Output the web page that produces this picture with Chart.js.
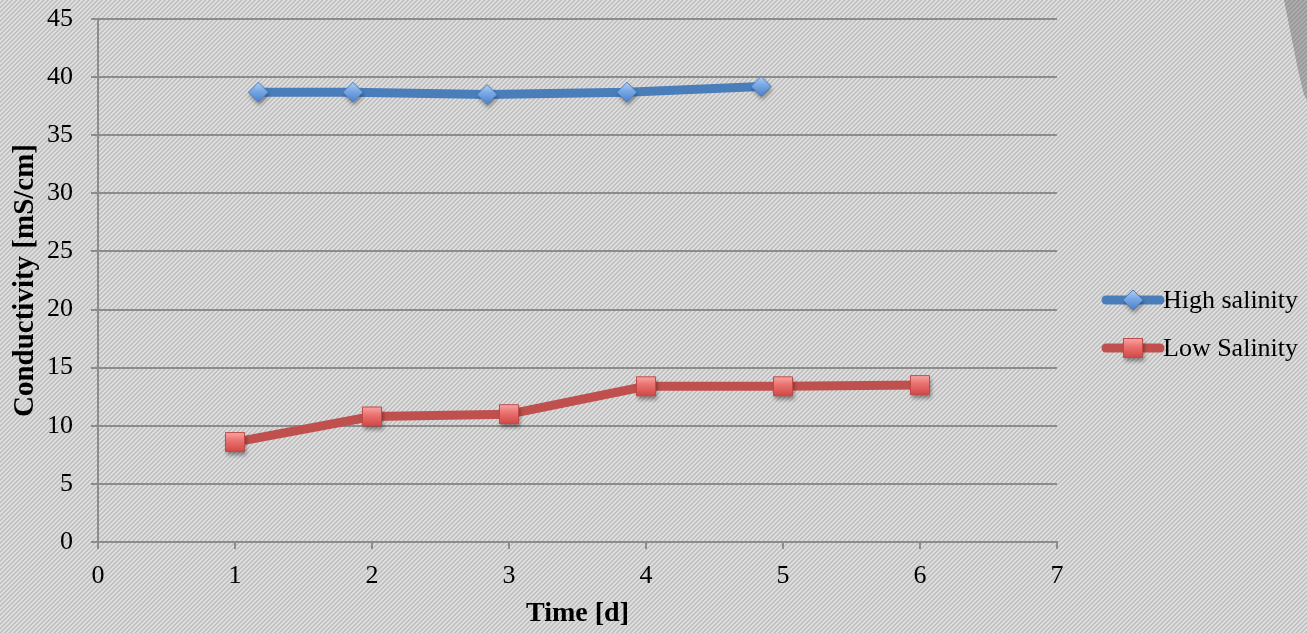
<!DOCTYPE html>
<html>
<head>
<meta charset="utf-8">
<script src="https://cdn.jsdelivr.net/npm/chart.js@4.4.1/dist/chart.umd.min.js"></script>
<style>
  html, body { margin: 0; padding: 0; background: #d0d0d0; overflow: hidden; }
  #wrap { width: 1307px; height: 633px; }
</style>
</head>
<body>
<div id="wrap"><canvas id="chart" width="1307" height="633"></canvas></div>
<script>
// Measured conductivity over time
const seriesNames = ['High salinity', 'Low Salinity'];
const highDays = [1.17, 1.86, 2.84, 3.86, 4.84];
const highConductivity = [38.7, 38.7, 38.5, 38.7, 39.2];
const lowDays = [1, 2, 3, 4, 5, 6];
const lowConductivity = [8.6, 10.8, 11.0, 13.4, 13.4, 13.5];
const xTickValues = [0, 1, 2, 3, 4, 5, 6, 7];
const yTickValues = [0, 5, 10, 15, 20, 25, 30, 35, 40, 45];
const xTitle = 'Time [d]';
const yTitle = 'Conductivity [mS/cm]';

const FONT = "'Liberation Serif', 'Times New Roman', serif";
const GRID = '#8c8c8c';

// Diagonal hatch used as the page background
function makeHatch(light, dark) {
  const n = 9, c = document.createElement('canvas');
  c.width = n; c.height = n;
  const g = c.getContext('2d');
  const img = g.createImageData(n, n);
  for (let y = 0; y < n; y++) {
    for (let x = 0; x < n; x++) {
      const t = 0.5 + 0.5 * Math.cos(2 * Math.PI * (x + y) / 4.5);
      const v = Math.round(dark + (light - dark) * t);
      const i = (y * n + x) * 4;
      img.data[i] = img.data[i + 1] = img.data[i + 2] = v; img.data[i + 3] = 255;
    }
  }
  g.putImageData(img, 0, 0);
  return c;
}

// Shaded marker images
function makeMarker(kind) {
  const s = 34, c = document.createElement('canvas');
  c.width = s; c.height = s;
  const g = c.getContext('2d');
  const m = s / 2;
  const path = () => {
    g.beginPath();
    if (kind === 'diamond') {
      const r = 10;
      g.moveTo(m, m - r); g.lineTo(m + r, m); g.lineTo(m, m + r); g.lineTo(m - r, m); g.closePath();
    } else {
      const h = 9.5;
      g.rect(m - h, m - h, 2 * h, 2 * h);
    }
  };
  const grad = g.createLinearGradient(0, m - 10, 0, m + 10);
  if (kind === 'diamond') {
    grad.addColorStop(0, '#b3d0f5'); grad.addColorStop(0.45, '#78a7e4'); grad.addColorStop(1, '#4b80cc');
  } else {
    grad.addColorStop(0, '#f8aaa8'); grad.addColorStop(0.4, '#ec7472'); grad.addColorStop(1, '#d04644');
  }
  g.save();
  g.shadowColor = 'rgba(0,0,0,0.4)'; g.shadowBlur = 4; g.shadowOffsetX = 1; g.shadowOffsetY = 3;
  path(); g.fillStyle = grad; g.fill();
  g.restore();
  path(); g.lineWidth = 1; g.strokeStyle = kind === 'diamond' ? '#4a7ebb' : '#be4b48'; g.stroke();
  return c;
}

const hatch = makeHatch(228, 188);
const markers = [makeMarker('diamond'), makeMarker('square')];
const lineColors = ['#4a7ebb', '#c0504d'];

const backgroundPlugin = {
  id: 'hatchBackground',
  beforeDraw(chart) {
    const ctx = chart.ctx;
    ctx.save();
    ctx.fillStyle = ctx.createPattern(hatch, 'repeat');
    ctx.fillRect(0, 0, chart.width, chart.height);
    // folded corner at top right
    ctx.beginPath();
    ctx.moveTo(1284, 0);
    ctx.lineTo(1298, 70);
    ctx.lineTo(1304, 95);
    ctx.lineTo(1307, 100);
    ctx.lineTo(1307, 0);
    ctx.closePath();
    ctx.fillStyle = 'rgba(60,60,60,0.3)';
    ctx.fill();
    ctx.restore();
  }
};

const legendPlugin = {
  id: 'lineLegend',
  afterDraw(chart) {
    const ctx = chart.ctx;
    ctx.save();
    chart.data.datasets.forEach((ds, i) => {
      const y = 300 + i * 48;
      ctx.beginPath();
      ctx.moveTo(1106, y); ctx.lineTo(1160, y);
      ctx.lineWidth = 9; ctx.lineCap = 'round';
      ctx.strokeStyle = ds.borderColor;
      ctx.stroke();
      const img = ds.pointStyle;
      ctx.drawImage(img, 1133 - img.width / 2, y - img.height / 2);
      ctx.fillStyle = '#000';
      ctx.font = '26px ' + FONT;
      ctx.textAlign = 'left'; ctx.textBaseline = 'middle';
      ctx.fillText(ds.label, 1163, y + 1);
    });
    ctx.restore();
  }
};

const toPoints = (xs, ys) => xs.map((x, i) => ({ x: x, y: ys[i] }));

new Chart(document.getElementById('chart'), {
  type: 'scatter',
  data: {
    datasets: [
      {
        label: seriesNames[0],
        data: toPoints(highDays, highConductivity),
        showLine: true,
        borderColor: lineColors[0],
        borderWidth: 9,
        borderJoinStyle: 'round',
        borderCapStyle: 'round',
        pointStyle: markers[0],
        pointRadius: 10,
        pointHoverRadius: 10
      },
      {
        label: seriesNames[1],
        data: toPoints(lowDays, lowConductivity),
        showLine: true,
        borderColor: lineColors[1],
        borderWidth: 9,
        borderJoinStyle: 'round',
        borderCapStyle: 'round',
        pointStyle: markers[1],
        pointRadius: 10,
        pointHoverRadius: 10
      }
    ]
  },
  options: {
    responsive: false,
    animation: false,
    devicePixelRatio: 1,
    layout: { padding: { top: 0, right: 250, bottom: 0, left: 0 } },
    plugins: { legend: { display: false }, tooltip: { enabled: false } },
    scales: {
      x: {
        type: 'linear',
        min: xTickValues[0],
        max: xTickValues[xTickValues.length - 1],
        afterBuildTicks: (s) => { s.ticks = xTickValues.map(v => ({ value: v })); },
        afterFit: (s) => { s.height = 91; },
        grid: { drawOnChartArea: false, drawTicks: true, tickLength: 7, color: GRID, lineWidth: 2 },
        border: { display: true, color: GRID, width: 2 },
        ticks: { color: '#000', font: { family: FONT, size: 26 }, padding: 12, maxRotation: 0 },
        title: { display: true, text: xTitle, color: '#000', font: { family: FONT, size: 28, weight: 'bold' }, padding: { top: 0, bottom: 2 } }
      },
      y: {
        type: 'linear',
        min: yTickValues[0],
        max: yTickValues[yTickValues.length - 1],
        afterBuildTicks: (s) => { s.ticks = yTickValues.map(v => ({ value: v })); },
        afterFit: (s) => { s.width = 98; s.paddingTop = 17; s.paddingBottom = 0; },
        grid: { drawOnChartArea: true, drawTicks: true, tickLength: 7, color: GRID, lineWidth: 2 },
        border: { display: true, color: GRID, width: 2 },
        ticks: { color: '#000', font: { family: FONT, size: 26 }, padding: 18 },
        title: { display: true, text: yTitle, color: '#000', font: { family: FONT, size: 29, weight: 'bold' }, padding: { top: 8, bottom: 0 } }
      }
    }
  },
  plugins: [backgroundPlugin, legendPlugin]
});
</script>
</body>
</html>
